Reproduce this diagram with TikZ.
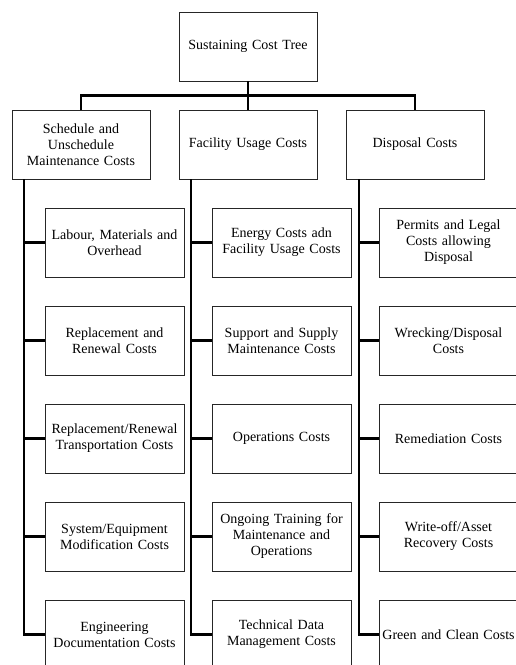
\documentclass[tikz,border=0pt]{standalone}
\usepackage{fontspec}
\setmainfont{Liberation Serif}
\usetikzlibrary{positioning}

\begin{document}
\begin{tikzpicture}[font=\fontsize{14}{16}\selectfont, node distance = 29pt,
	block/.style = { rectangle, draw=black!85, line width=1pt, fill=white,
	minimum height=69pt, minimum width=138pt, text width=132pt,
	align=center, inner sep=0pt, outer sep=0pt },
	item/.style = { block, minimum width=139pt },
	link/.style = { line width=2.4pt, line join=miter } ]

  \useasboundingbox (0,0) rectangle (516pt,-665pt);

  \node [name=root, block] at (248pt,-46.5pt) { Sustaining Cost Tree };
  \node [name=usage, block, below=of root] { Facility Usage Costs };
  \node [name=sched, block, left=of usage]
	{ Schedule and\\ Unschedule\\ Maintenance Costs };
  \node [name=disp, block, right=of usage] { Disposal Costs };

  \node [name=labour, item, below right=29pt and 33pt of sched.south west]
	{ Labour, Materials and\\ Overhead };
  \node [name=renew, item, below=of labour] { Replacement and\\ Renewal Costs };
  \node [name=transp, item, below=of renew]
	{ Replacement/Renewal\\ Transportation Costs };
  \node [name=modif, item, below=of transp]
	{ System/Equipment\\ Modification Costs };
  \node [name=engdoc, item, below=of modif]
	{ Engineering\\ Documentation Costs };

  \node [name=energy, item, below right=29pt and 33pt of usage.south west]
	{ Energy Costs adn\\ Facility Usage Costs };
  \node [name=supply, item, below=of energy]
	{ Support and Supply\\ Maintenance Costs };
  \node [name=oper, item, below=of supply] { Operations Costs };
  \node [name=train, item, below=of oper]
	{ Ongoing Training for\\ Maintenance and\\ Operations };
  \node [name=techdata, item, below=of train]
	{ Technical Data\\ Management Costs };

  \node [name=permits, item, below right=29pt and 33pt of disp.south west]
	{ Permits and Legal\\ Costs allowing\\ Disposal };
  \node [name=wreck, item, below=of permits] { Wrecking/Disposal\\ Costs };
  \node [name=remed, item, below=of wreck] { Remediation Costs };
  \node [name=writeoff, item, below=of remed]
	{ Write-off/Asset\\ Recovery Costs };
  \node [name=green, item, below=of writeoff]
	{ \makebox[132pt]{Green and Clean Costs} };

  \draw [link] (root.south) -- ++(0,-14.5pt) -| (sched.north);
  \draw [link] (root.south) -- ++(0,-14.5pt) -| (disp.north);
  \draw [link] (root) -- (usage);

  \foreach \c in {labour, renew, transp, modif, engdoc}
	\draw [link] ([xshift=12pt]sched.south west) |- (\c.west);
  \foreach \c in {energy, supply, oper, train, techdata}
	\draw [link] ([xshift=12pt]usage.south west) |- (\c.west);
  \foreach \c in {permits, wreck, remed, writeoff, green}
	\draw [link] ([xshift=13pt]disp.south west) |- (\c.west);
\end{tikzpicture}
\end{document}
